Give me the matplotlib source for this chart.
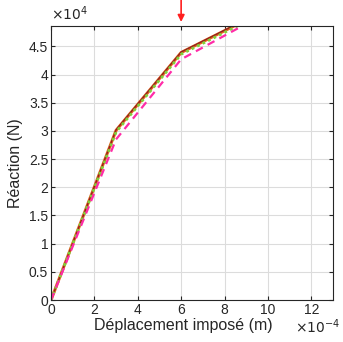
import matplotlib.pyplot as plt
from matplotlib.ticker import FuncFormatter

plt.rcParams['font.family'] = ['Liberation Sans', 'DejaVu Sans']

# displacement (m) and reaction (N) for each curve
depl = [0.0, 3e-4, 6e-4, 9e-4]
reac_ref = [0.0, 3.02e4, 4.40e4, 4.98e4]
reac_orange = [0.0, 3.01e4, 4.39e4, 4.97e4]
reac_green = [0.0, 2.98e4, 4.36e4, 4.94e4]
reac_magenta = [0.0, 2.85e4, 4.27e4, 4.90e4]

arrow_x = 6e-4

xticks = [0, 2e-4, 4e-4, 6e-4, 8e-4, 10e-4, 12e-4]
yticks = [0, 0.5e4, 1e4, 1.5e4, 2e4, 2.5e4, 3e4, 3.5e4, 4e4, 4.5e4]

txt = '#262626'

fig = plt.figure(figsize=(3.43, 3.42), dpi=100)
ax = fig.add_axes([0.1487, 0.1228, 0.822, 0.801])

ax.plot(depl, reac_orange, color='#e8601c', lw=2.2)
ax.plot(depl, reac_ref, color='#8b2020', lw=0.9)
ax.plot(depl, reac_green, color='#7fd13b', lw=2.0, ls=(0, (1, 1.2)))
ax.plot(depl, reac_magenta, color='#ff2ca8', lw=1.6, ls=(0, (3.5, 2.5)))

ax.set_xlim(0, 13e-4)
ax.set_ylim(0, 4.86e4)
ax.set_xticks(xticks)
ax.set_yticks(yticks)
ax.xaxis.set_major_formatter(FuncFormatter(lambda v, p: '%g' % round(v * 1e4, 3)))
ax.yaxis.set_major_formatter(FuncFormatter(lambda v, p: '%g' % round(v / 1e4, 3)))

ax.grid(True, color='#dcdcdc', lw=0.8)
ax.set_axisbelow(True)
ax.tick_params(direction='in', length=3, labelsize=10, colors=txt, top=True, right=True, pad=2)
for s in ax.spines.values():
    s.set_color(txt)
    s.set_linewidth(0.8)

ax.set_xlabel('Déplacement imposé (m)', fontsize=11.5, color=txt)
ax.xaxis.set_label_coords(0.468, -0.064)
ax.set_ylabel('Réaction (N)', fontsize=11.5, color=txt, labelpad=4)

ax.text(0.0, 1.01, r'$\times10^{4}$', transform=ax.transAxes, fontsize=10, color=txt,
        ha='left', va='bottom', math_fontfamily='dejavusans')
ax.text(1.027, -0.064, r'$\times10^{-4}$', transform=ax.transAxes, fontsize=10, color=txt,
        ha='right', va='top', math_fontfamily='dejavusans')

ax.annotate('', xy=(arrow_x, 1.015), xycoords=('data', 'axes fraction'),
            xytext=(arrow_x, 1.095), textcoords=('data', 'axes fraction'),
            arrowprops=dict(arrowstyle='-|>', color='#ff2020', lw=1.2,
                            mutation_scale=10, shrinkA=0, shrinkB=0),
            annotation_clip=False)

fig.savefig('out.png', dpi=100)
